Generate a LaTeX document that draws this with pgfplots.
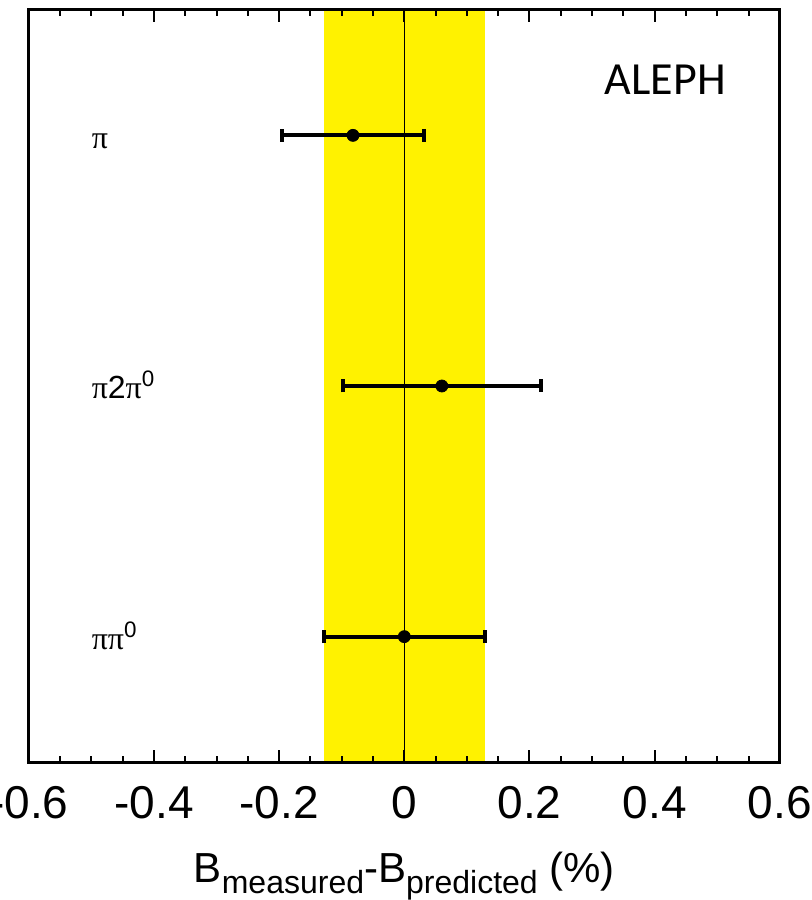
\documentclass[border=0pt]{standalone}
\usepackage{pgfplots}
\pgfplotsset{compat=1.18}
\usepackage{fontspec}
\setmainfont{Liberation Sans}
\newfontfamily\carlito{Carlito}
\newfontfamily\serifgr{Liberation Serif}
\newcommand{\sub}[1]{\raisebox{-5.5pt}{\fontsize{16}{18}\selectfont #1}}
\begin{document}
\begin{tikzpicture}
\begin{axis}[
  at={(0,0)}, anchor=south west,
  scale only axis, width=375.5pt, height=376pt,
  xmin=-0.6, xmax=0.6, ymin=0, ymax=1,
  axis line style={line width=1.5pt},
  ytick=\empty,
  xtick={-0.6,-0.4,-0.2,0,0.2,0.4,0.6},
  xticklabels={-0.6,-0.4,-0.2,0,0.2,0.4,0.6},
  minor x tick num=3,
  tick align=inside,
  xtick pos=both,
  major tick length=6pt,
  minor tick length=3pt,
  every tick/.style={line width=1pt, black},
  xticklabel style={font=\fontsize{23}{27}\selectfont, anchor=base, yshift=-28pt},
  xlabel={B\sub{measured}-B\sub{predicted} (\%)},
  xlabel style={font=\fontsize{21}{25}\selectfont, at={(axis description cs:0.5,0)}, anchor=base, yshift=-60pt},
  axis on top,
  clip=false,
]
\addplot[fill=yellow, draw=none] coordinates {(-0.129,0) (0.129,0) (0.129,1) (-0.129,1)} -- cycle;
\addplot[black, line width=0.6pt] coordinates {(0,0) (0,1)};
\addplot[only marks, mark=*, mark size=3pt, black,
  error bars/.cd, x dir=both, x explicit,
  error bar style={line width=2pt},
  error mark options={rotate=90, mark size=3.25pt, line width=2pt}]
  coordinates {
    (-0.082,0.8333) +- (0.113,0)
    (0.060,0.5) +- (0.158,0)
    (0.0,0.1667) +- (0.129,0)
  };
\node[font=\carlito\fontsize{23}{27}\selectfont] at (axis cs:0.417,0.907) {ALEPH};
\node[anchor=base west, inner sep=0pt, font=\fontsize{16}{19}\selectfont] at (axis cs:-0.5,0.8333) [yshift=-6.5pt] {\serifgr π};
\node[anchor=base west, inner sep=0pt, font=\fontsize{16}{19}\selectfont] at (axis cs:-0.5,0.5) [yshift=-6.5pt] {{\serifgr π}2{\serifgr π}\textsuperscript{0}};
\node[anchor=base west, inner sep=0pt, font=\fontsize{16}{19}\selectfont] at (axis cs:-0.5,0.1667) [yshift=-6.5pt] {{\serifgr ππ}\textsuperscript{0}};
\end{axis}
\pgfresetboundingbox
\useasboundingbox (-14.4pt,-69pt) rectangle (391.1pt,381pt);
\end{tikzpicture}
\end{document}
